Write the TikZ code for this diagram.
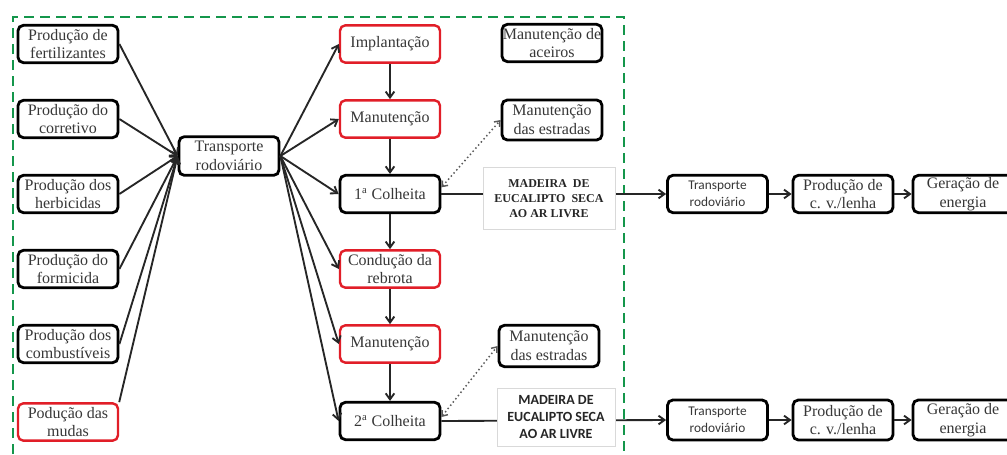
\documentclass[tikz,border=0pt]{standalone}
\usepackage{fontspec}
\setmainfont{Liberation Serif}
\newfontfamily\sansf{Carlito}
\usetikzlibrary{arrows.meta}
\definecolor{gdash}{RGB}{20,150,75}
\definecolor{bred}{RGB}{225,30,40}
\definecolor{txt}{RGB}{55,55,55}
\begin{document}
\begin{tikzpicture}[x=0.75pt,y=-0.75pt,
  box/.style={draw=black, line width=2.1pt, rounded corners=4pt, minimum width=75pt,
    minimum height=28pt, inner sep=0.5pt, align=center, text=txt,
    font=\fontsize{12}{14}\selectfont, fill=white},
  rbox/.style={box, draw=bred, line width=1.8pt},
  sbox/.style={box, font=\sansf\fontsize{10}{12.5}\selectfont},
  wood/.style={draw=black!15, line width=0.6pt, fill=white, align=center, text=black!85, inner sep=1pt},
  arr/.style={-{Straight Barb[length=4.5pt,width=6.5pt]}, line width=1.4pt, black!85},
  dotarr/.style={{Straight Barb[length=3.5pt,width=5.5pt]}-{Straight Barb[length=3.5pt,width=5.5pt]},
    dotted, line width=1.1pt, black!65},
]
\useasboundingbox (0,0) rectangle (1007,454);
\fill[white] (0,0) rectangle (1007,454);

% green dashed boundary
\draw[gdash, line width=2pt, dash pattern=on 7.5pt off 4.5pt] (13,470) -- (13,17) -- (624,17) -- (624,470);

% left column
\node[box] (F1) at (68,44) {Produção de\\fertilizantes};
\node[box] (F2) at (68,119) {Produção do\\corretivo};
\node[box] (F3) at (68,194) {Produção dos\\herbicidas};
\node[box] (F4) at (68,269) {Produção do\\formicida};
\node[box] (F5) at (68,344) {Produção dos\\combustíveis};
\node[rbox] (F6) at (68,422) {Podução das\\mudas};

% transport
\node[box, minimum height=29pt] (T) at (229,156) {Transporte\\rodoviário};

% middle column
\node[rbox] (M1) at (390,44) {Implantação};
\node[rbox] (M2) at (390,119) {Manutenção};
\node[box] (M3) at (390,194) {1\textsuperscript{a} Colheita};
\node[rbox] (M4) at (390,269) {Condução da\\rebrota};
\node[rbox] (M5) at (390,344) {Manutenção};
\node[box] (M6) at (390,421) {2\textsuperscript{a} Colheita};

% maintenance boxes
\node[box] (A) at (552,43) {Manutenção de\\aceiros};
\node[box, minimum height=30pt] (E1) at (552,120) {Manutenção\\das estradas};
\node[box, minimum height=31pt] (E2) at (549,346) {Manutenção\\das estradas};

% right chain row 1
\node[sbox] (TR1) at (717.5,194) {Transporte\\rodoviário};
\node[box] (P1) at (843,194) {Produção de\\c. v./lenha};
\node[box] (G1) at (963,194) {Geração de\\energia};
% right chain row 2
\node[sbox, minimum height=30pt] (TR2) at (717.5,420) {Transporte\\rodoviário};
\node[box, minimum height=30pt] (P2) at (843,420) {Produção de\\c. v./lenha};
\node[box, minimum height=30pt] (G2) at (963,420) {Geração de\\energia};

% inputs to transport
\foreach \n in {F1,F2,F3,F4,F5} \draw[arr] (\n.east) -- (T.west);
\draw[arr] (F6.north east) -- (T.west);

% transport to middle
\foreach \n in {M1,M2,M3,M4,M5,M6} \draw[arr] (T.east) -- (\n.west);

% middle chain
\draw[arr] (M1) -- (M2);
\draw[arr] (M2) -- (M3);
\draw[arr] (M3) -- (M4);
\draw[arr] (M4) -- (M5);
\draw[arr] (M5) -- (M6);

% dotted links
\draw[dotarr] ([yshift=5pt]M3.east) -- (E1.west);
\draw[dotarr] ([yshift=3pt]M6.east) -- (E2.west);

% harvest to transport
\draw[arr] (M3.east) -- (TR1.west);
\draw[arr] (M6.east) -- (TR2.west);
\draw[arr] (TR1) -- (P1);
\draw[arr] (P1) -- (G1);
\draw[arr] (TR2) -- (P2);
\draw[arr] (P2) -- (G2);

% wood boxes over the lines
\node[wood, minimum width=99pt, minimum height=47pt, font=\bfseries\fontsize{9}{11.25}\selectfont] (W1) at (549,198.5)
  {MADEIRA\ \ DE\\EUCALIPTO\ \ SECA\\AO AR LIVRE};
\node[wood, minimum width=88.5pt, minimum height=44pt, font=\sansf\bfseries\fontsize{10.5}{12.75}\selectfont] (W2) at (556,417.5)
  {MADEIRA DE\\EUCALIPTO SECA\\AO AR LIVRE};
\end{tikzpicture}
\end{document}
